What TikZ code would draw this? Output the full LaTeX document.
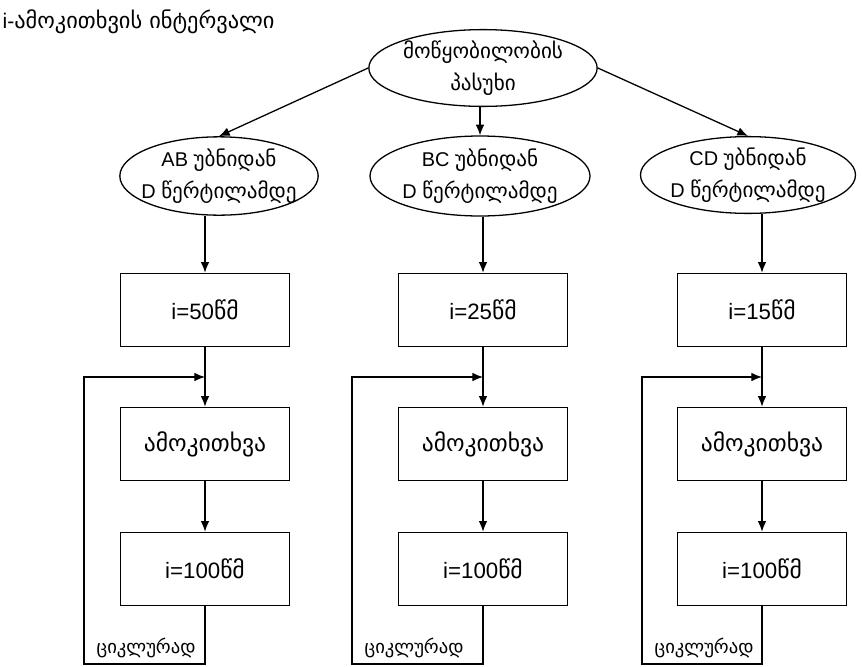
\documentclass[tikz,border=0pt]{standalone}
\usepackage{fontspec}
\setmainfont{Liberation Sans}
\newfontfamily\geofont[Scale=1.06]{DejaVu Sans}
\usetikzlibrary{positioning,shapes.geometric,arrows.meta,calc}

\begin{document}
\begin{tikzpicture}[
  x=0.03cm, y=-0.03cm,
  every node/.style={font=\fontsize{19}{23}\selectfont},
  >={Latex[length=3.2mm,width=2.6mm]},
  line width=1.1pt,
  resp/.style={ellipse, draw, align=center, inner xsep=-16pt, inner ysep=0pt,
               font=\fontsize{17}{27}\selectfont},
  stepbox/.style={draw, rectangle, minimum width=5.05cm, minimum height=2.2cm},
  loopnote/.style={font=\fontsize{15}{18}\selectfont\geofont, inner sep=0pt}
]
% units: 1 = one pixel of the 862x666 sheet, y grows downwards
\useasboundingbox (0,0) rectangle (862,666);

%% --- Heading --------------------------------------------------
\node[anchor=west, inner sep=0pt, font=\fontsize{18}{22}\selectfont] (title) at (2,22)
     {i-{\geofont ამოკითხვის ინტერვალი}};

%% --- Device answer and its three branches ----------------------
\node[resp, minimum width=6.85cm, minimum height=2.1cm] (dev) at (483,68)
     {\geofont მოწყობილობის\\\geofont პასუხი};
\node[resp, minimum width=5.95cm, minimum height=2.35cm] (ab) at (219,176)
     {AB {\geofont უბნიდან}\\D {\geofont წერტილამდე}};
\node[resp, minimum width=6.6cm, minimum height=2.4cm] (bc) at (480,176)
     {BC {\geofont უბნიდან}\\D {\geofont წერტილამდე}};
\node[resp, minimum width=6.45cm, minimum height=2.3cm] (cd) at (748,175)
     {CD {\geofont უბნიდან}\\D {\geofont წერტილამდე}};

\draw[->] (dev.west) -- (ab.north);
\draw[->] (bc.north |- dev.south) -- (bc.north);
\draw[->] (dev.east) -- (cd.north);

%% --- Reading columns (interval, read, wait, loop back) --------
\foreach \n/\x/\lx/\src/\val in {1/205/84/ab/50, 2/483/352/bc/25, 3/762/642/cd/15}{
  \node[stepbox] (iv\n) at (\x,310) {i=\val{\geofont წმ}};
  \node[stepbox] (rd\n) at (\x,444) {\geofont ამოკითხვა};
  \node[stepbox] (iw\n) at (\x,569) {i=100{\geofont წმ}};
  \draw[->] (iv\n.north |- \src.south) -- (iv\n.north);
  \draw[->] (iv\n) -- (rd\n);
  \draw[->] (rd\n) -- (iw\n);
  % loop corner and joint on the line above the reading box
  \coordinate (lp\n) at (\lx,664);
  \coordinate (jn\n) at ($(iv\n.south)!.5!(rd\n.north)$);
  \draw[->] (iw\n.south) |- (lp\n) |- (jn\n);
  \node[loopnote, anchor=base west] (cy\n) at (\lx+12,653) {ციკლურად};
}

\end{tikzpicture}
\end{document}
